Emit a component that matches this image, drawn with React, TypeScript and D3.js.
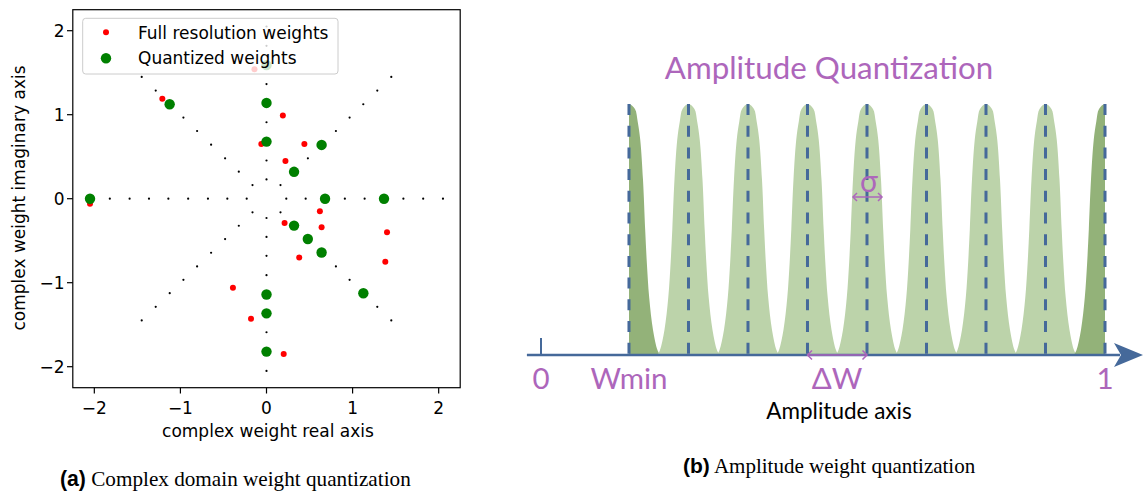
import * as d3 from "d3";

// ---- panel (a): complex weights ----
const gridAngles = [0, 45, 90, 135, 180, 225, 270, 315];
const gridRadii = [0.23, 0.455, 0.68, 0.91, 1.14, 1.365, 1.59, 1.82, 2.05];

const fullResX = [-0.14, -1.21, 0.19, -0.06, 0.44, 0.22, -2.05, 0.62, 0.21, 0.64, 1.4, 0.38, 1.38, -0.39, -0.18, 0.2];
const fullResY = [1.54, 1.19, 0.99, 0.65, 0.65, 0.45, -0.06, -0.15, -0.29, -0.34, -0.4, -0.7, -0.75, -1.06, -1.43, -1.85];

const quantX = [-2.05, -1.125, 0, 0, 0.64, 0.32, 0.68, 1.365, 0, 0.32, 0.48, 0.64, 1.125, 0, 0, 0];
const quantY = [0, 1.125, 1.14, 0.68, 0.64, 0.32, 0, 0, 1.59, -0.32, -0.48, -0.64, -1.125, -1.14, -1.365, -1.82];

const ticksA = [-2, -1, 0, 1, 2];

// ---- panel (b): amplitude quantization ----
const levels = [0.156, 0.2615, 0.367, 0.4725, 0.578, 0.6835, 0.789, 0.8945, 1.0];
// peak outline: relative height vs half-width (amplitude units)
const profileV = [1, 0.98, 0.93, 0.857, 0.7, 0.5, 0.37, 0.23, 0.1, 0.02, 0];
const profileW = [0, 0.0106, 0.0154, 0.02, 0.0248, 0.0287, 0.0316, 0.0358, 0.0426, 0.0505, 0.055];
const axisLabels = [
  { text: "0", v: 0 },
  { text: "Wmin", v: 0.156 },
  { text: "ΔW", v: 0.525 },
  { text: "1", v: 1.0 },
];

const PURPLE = "#ad66bb";
const BLUE = "#45699a";
const LIGHT_GREEN = "#bcd3aa";
const DARK_GREEN = "#93b279";
const SANS = "'DejaVu Sans', sans-serif";
const CAL = "Lato, 'Open Sans', sans-serif";

function PanelA() {
  const x = d3.scaleLinear().domain([-2.25, 2.25]).range([72.8, 460.2]);
  const y = d3.scaleLinear().domain([-2.25, 2.25]).range([387.7, 9.7]);
  const grid: [number, number][] = [];
  gridAngles.forEach((a) => {
    gridRadii.forEach((r) => {
      const t = (a * Math.PI) / 180;
      grid.push([r * Math.cos(t), r * Math.sin(t)]);
    });
  });
  const fmt = (v: number) => (v < 0 ? "\u2212" + Math.abs(v) : String(v));
  return (
    <g fontFamily={SANS} fontSize={17}>
      {grid.map((p, i) => (
        <circle key={"g" + i} cx={x(p[0])} cy={y(p[1])} r={1.1} fill="#000" />
      ))}
      {fullResX.map((v, i) => (
        <circle key={"r" + i} cx={x(v)} cy={y(fullResY[i])} r={3} fill="red" />
      ))}
      {quantX.map((v, i) => (
        <circle key={"q" + i} cx={x(v)} cy={y(quantY[i])} r={5.2} fill="green" />
      ))}
      {/* legend */}
      <rect x={82.7} y={18.3} width={255.3} height={55.7} rx={3} fill="#fff" fillOpacity={0.8} stroke="#cccccc" strokeWidth={1} />
      <circle cx={106} cy={32.3} r={3} fill="red" />
      <text x={138} y={38.5} fill="#000">Full resolution weights</text>
      <circle cx={106} cy={58.3} r={5.2} fill="green" />
      <text x={138} y={64} fill="#000">Quantized weights</text>
      {/* frame */}
      <rect x={72.8} y={9.7} width={460.2 - 72.8} height={387.7 - 9.7} fill="none" stroke="#000" strokeWidth={1.2} />
      {ticksA.map((t) => (
        <g key={"xt" + t}>
          <line x1={x(t)} x2={x(t)} y1={387.7} y2={393.5} stroke="#000" strokeWidth={1.2} />
          <text x={x(t)} y={413.5} textAnchor="middle">{fmt(t)}</text>
        </g>
      ))}
      {ticksA.map((t) => (
        <g key={"yt" + t}>
          <line x1={67} x2={72.8} y1={y(t)} y2={y(t)} stroke="#000" strokeWidth={1.2} />
          <text x={64.5} y={y(t) + 6} textAnchor="end">{fmt(t)}</text>
        </g>
      ))}
      <text x={268} y={437} textAnchor="middle">complex weight real axis</text>
      <text transform="translate(25,198) rotate(-90)" textAnchor="middle">complex weight imaginary axis</text>
      <text x={60} y={486} fontSize={21.2}>
        <tspan fontFamily="'Liberation Sans', Arial, sans-serif" fontWeight="bold">(a)</tspan>
        <tspan fontFamily="'Liberation Serif', 'Times New Roman', serif"> Complex domain weight quantization</tspan>
      </text>
    </g>
  );
}

function PanelB() {
  const x = d3.scaleLinear().domain([0, 1]).range([541, 1105]);
  const y = d3.scaleLinear().domain([0, 1]).range([355, 104]);
  const line = d3
    .line<[number, number]>()
    .x((d) => x(d[0]))
    .y((d) => y(d[1]))
    .curve(d3.curveCatmullRom.alpha(0.5));
  const peakPath = (c: number) => {
    const pts: [number, number][] = [];
    for (let k = profileV.length - 1; k > 0; k--) pts.push([c - profileW[k], profileV[k]]);
    pts.push([c, 1]);
    for (let k = 1; k < profileV.length; k++) pts.push([c + profileW[k], profileV[k]]);
    return (line(pts) || "") + "Z";
  };
  const ay = y(0);
  const first = levels[0];
  const last = levels[levels.length - 1];
  const chev = (px: number, py: number, dir: number, s: number) =>
    `M${px - dir * s},${py - s}L${px},${py}L${px - dir * s},${py + s}`;
  return (
    <g>
      <defs>
        <clipPath id="clipBand">
          <rect x={x(first)} y={0} width={x(last) - x(first)} height={ay} />
        </clipPath>
      </defs>
      <text x={829} y={79} textAnchor="middle" fontFamily={CAL} fontSize={31.3} fill={PURPLE}>
        Amplitude Quantization
      </text>
      <g clipPath="url(#clipBand)">
        {levels.map((c, i) => {
          const edge = i === 0 || i === levels.length - 1;
          return <path key={"p" + i} d={peakPath(c)} fill={edge ? DARK_GREEN : LIGHT_GREEN} />;
        })}
      </g>
      {levels.map((c, i) => (
        <line key={"dl" + i} x1={x(c)} x2={x(c)} y1={y(1)} y2={ay} stroke={BLUE} strokeWidth={3} strokeDasharray="11 10.7" />
      ))}
      {/* axis */}
      <line x1={x(-0.025)} x2={1120} y1={ay} y2={ay} stroke={BLUE} strokeWidth={2.5} />
      <path d={`M1143,${ay}L1114,${ay - 12}L1121,${ay}L1114,${ay + 12}Z`} fill={BLUE} />
      <line x1={x(0)} x2={x(0)} y1={338} y2={ay} stroke={BLUE} strokeWidth={2} />
      {/* delta W arrow */}
      <line x1={x(levels[3])} x2={x(levels[4])} y1={ay} y2={ay} stroke={PURPLE} strokeWidth={1.5} />
      <path d={chev(x(levels[3]), ay, -1, 4.5)} fill="none" stroke={PURPLE} strokeWidth={1.5} />
      <path d={chev(x(levels[4]), ay, 1, 4.5)} fill="none" stroke={PURPLE} strokeWidth={1.5} />
      {/* sigma arrow */}
      <text x={x(levels[4]) + 2} y={192} textAnchor="middle" fontFamily={CAL} fontSize={30} fill={PURPLE}>σ</text>
      <line x1={853} x2={882} y1={197} y2={197} stroke={PURPLE} strokeWidth={1.5} />
      <path d={chev(853, 197, -1, 4)} fill="none" stroke={PURPLE} strokeWidth={1.5} />
      <path d={chev(882, 197, 1, 4)} fill="none" stroke={PURPLE} strokeWidth={1.5} />
      {axisLabels.map((l) => (
        <text key={l.text} x={x(l.v)} y={389} textAnchor="middle" fontFamily={CAL} fontSize={29.5} fill={PURPLE}>
          {l.text}
        </text>
      ))}
      <text x={839} y={419} textAnchor="middle" fontFamily={CAL} fontSize={22.5} fill="#000">Amplitude axis</text>
      <text x={683} y={473} fontSize={21}>
        <tspan fontFamily="'Liberation Sans', Arial, sans-serif" fontWeight="bold">(b)</tspan>
        <tspan fontFamily="'Liberation Serif', 'Times New Roman', serif"> Amplitude weight quantization</tspan>
      </text>
    </g>
  );
}

export default function App() {
  return (
    <svg width={1146} height={491} style={{ position: "absolute", left: 0, top: 0, background: "#fff" }}>
      <PanelA />
      <PanelB />
    </svg>
  );
}
